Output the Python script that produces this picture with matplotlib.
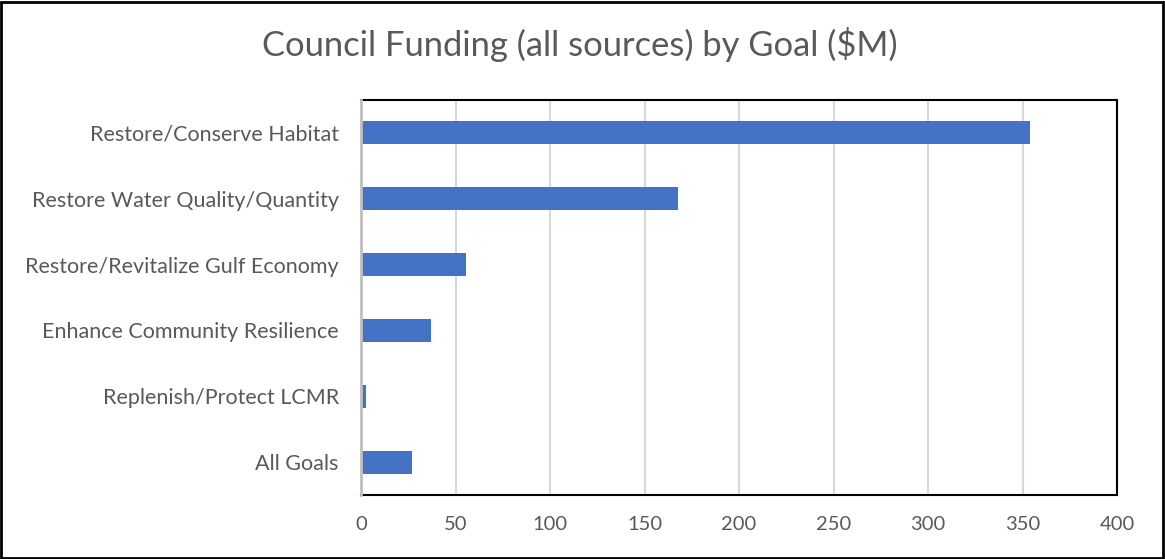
import matplotlib
matplotlib.use("Agg")
import matplotlib.pyplot as plt
from matplotlib.patches import Rectangle

categories = ["Restore/Conserve Habitat", "Restore Water Quality/Quantity",
              "Restore/Revitalize Gulf Economy", "Enhance Community Resilience",
              "Replenish/Protect LCMR", "All Goals"]
values = [354, 167.7, 55.7, 37.3, 2.6, 26.8]
xticks = [0, 50, 100, 150, 200, 250, 300, 350, 400]
title = "Council Funding (all sources) by Goal ($M)"

plt.rcParams['font.family'] = ['Lato', 'DejaVu Sans']
fig = plt.figure(figsize=(11.65, 5.59), dpi=100)
ax = fig.add_axes([361/1165, 1-495/559, (1117-361)/1165, (495-100)/559])

ypos = list(range(len(categories)))[::-1]
ax.barh(ypos, values, height=0.35, color="#4472C4", zorder=3)
ax.set_yticks(ypos)
ax.set_yticklabels(categories, fontsize=15.5, color="#595959")
ax.set_xlim(0, 400)
ax.set_ylim(-0.5, len(categories) - 0.5)
ax.set_xticks(xticks)
ax.set_xticklabels([str(t) for t in xticks], fontsize=14.5, color="#595959")
ax.tick_params(axis='y', length=0, pad=16)
ax.tick_params(axis='x', length=0, pad=15)
ax.grid(axis='x', color="#D9D9D9", linewidth=1.5, zorder=0)
for s in ["top", "right", "bottom"]:
    ax.spines[s].set_color("black")
    ax.spines[s].set_linewidth(1.5)
ax.spines["left"].set_color("#BFBFBF")
ax.spines["left"].set_linewidth(2)
ax.spines["left"].set_zorder(4)

fig.text(0.498, 1-45/559, title, ha="center", va="center", fontsize=24.8, color="#595959")
fig.patches.append(Rectangle((0.001, 0.002), 0.997, 0.995, transform=fig.transFigure,
                             fill=False, edgecolor="black", linewidth=2))
fig.savefig("out.png", dpi=100)
